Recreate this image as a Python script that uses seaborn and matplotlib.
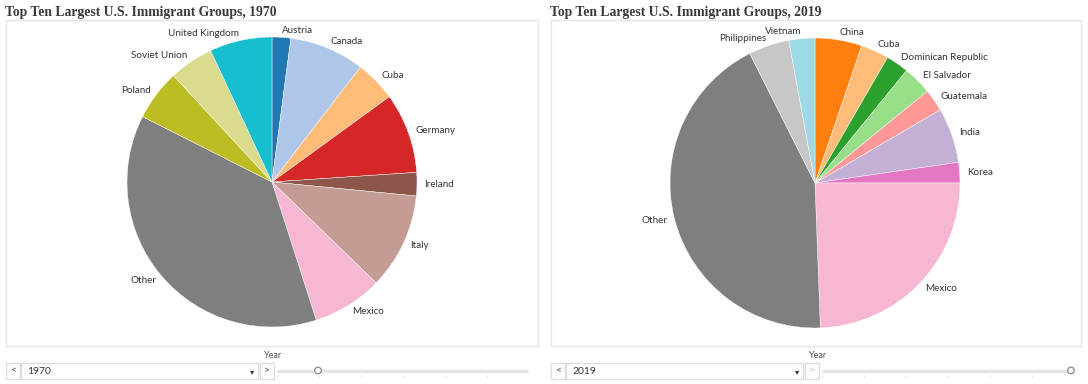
import matplotlib
matplotlib.use("Agg")
import matplotlib.pyplot as plt
from matplotlib.patches import Rectangle, Circle
import seaborn as sns

# ---------------- data ----------------
groups_1970 = ["Austria", "Canada", "Cuba", "Germany", "Ireland", "Italy",
               "Mexico", "Other", "Poland", "Soviet Union", "United Kingdom"]
values_1970 = [200, 805, 438, 860, 250, 1030, 752, 3595, 545, 475, 669]

groups_2019 = ["China", "Cuba", "Dominican Republic", "El Salvador", "Guatemala",
               "India", "Korea", "Mexico", "Other", "Philippines", "Vietnam"]
values_2019 = [2350, 1395, 1140, 1445, 1120, 2750, 1025, 10960, 19380, 2035, 1300]

titles = ["Top Ten Largest U.S. Immigrant Groups, 1970",
          "Top Ten Largest U.S. Immigrant Groups, 2019"]
years = ["1970", "2019"]

# ---------------- style ----------------
sns.set_theme(style="white")
plt.rcParams["font.family"] = ["Lato", "DejaVu Sans"]

tab20 = sns.color_palette("tab20")
color_index = {"Austria": 0, "Canada": 1, "China": 2, "Cuba": 3,
               "Dominican Republic": 4, "El Salvador": 5, "Germany": 6,
               "Guatemala": 7, "India": 9, "Ireland": 10, "Italy": 11,
               "Korea": 12, "Mexico": 13, "Other": 14, "Philippines": 15,
               "Poland": 16, "Soviet Union": 17, "United Kingdom": 18,
               "Vietnam": 19}

W, H = 1088, 384
fig = plt.figure(figsize=(W / 100, H / 100), dpi=100)

# background overlay in pixel coordinates
bg = fig.add_axes([0, 0, 1, 1])
bg.set_xlim(0, W)
bg.set_ylim(H, 0)
bg.axis("off")

panels = [
    dict(x0=6, x1=538, title_x=5, cx=272, cy=182, slider_pos=318,
         groups=groups_1970, values=values_1970, next_active=True),
    dict(x0=551, x1=1081, title_x=550, cx=815, cy=183, slider_pos=1071,
         groups=groups_2019, values=values_2019, next_active=False),
]
R = 145
border = "#e6e6e6"

for i, p in enumerate(panels):
    # title
    bg.text(p["title_x"], 12.5, titles[i], fontsize=9.8, fontweight="bold",
            family="Liberation Serif", color="#3a3a3a", ha="left", va="center")
    # chart frame
    bg.add_patch(Rectangle((p["x0"], 20), p["x1"] - p["x0"], 326,
                           facecolor="white", edgecolor=border, lw=1))
    # year control
    x0 = p["x0"]
    bg.add_patch(Rectangle((x0, 363), 14, 16, facecolor="white",
                           edgecolor="#dddddd", lw=1))
    bg.text(x0 + 7, 371, "<", fontsize=7.5, color="#444444", ha="center", va="center")
    bg.add_patch(Rectangle((x0 + 15, 363), 237, 16, facecolor="white",
                           edgecolor="#dddddd", lw=1))
    bg.text(x0 + 21, 371, years[i], fontsize=7.5, color="#333333", ha="left", va="center")
    bg.text(x0 + 246, 371.5, "\u25BE", fontsize=6, color="#333333",
            ha="center", va="center", family="DejaVu Sans")
    bg.add_patch(Rectangle((x0 + 254, 363), 14, 16, facecolor="white",
                           edgecolor="#dddddd", lw=1))
    bg.text(x0 + 261, 371, ">", fontsize=7.5,
            color="#444444" if p["next_active"] else "#bbbbbb",
            ha="center", va="center")
    bg.text(x0 + 258, 356, "Year", fontsize=6.5, color="#555555", ha="left", va="center")
    s0, s1 = x0 + 271, p["x1"] - 10
    bg.plot([s0, s1], [371, 371], color="#e3e3e3", lw=2.5, solid_capstyle="butt")
    for k in range(7):
        tx = s0 + 42 * k
        if tx < s1:
            bg.plot([tx, tx], [375, 377], color="#dddddd", lw=0.6)
    bg.add_patch(Circle((p["slider_pos"], 370.5), 3.3, facecolor="white",
                        edgecolor="#888888", lw=0.9, zorder=5))

    # pie
    ax = fig.add_axes([(p["cx"] - R) / W, 1 - (p["cy"] + R) / H, 2 * R / W, 2 * R / H])
    cols = [tab20[color_index[g]] for g in p["groups"]]
    wedges, texts = ax.pie(p["values"], labels=p["groups"], colors=cols,
                           startangle=90, counterclock=False, radius=1,
                           labeldistance=1.05,
                           wedgeprops=dict(edgecolor="white", linewidth=0.3),
                           textprops=dict(fontsize=7.1, color="#333333"))
    ax.set_xlim(-1, 1)
    ax.set_ylim(-1, 1)
    ax.set_aspect("equal")
    ax.axis("off")

fig.savefig("out.png", dpi=100)
